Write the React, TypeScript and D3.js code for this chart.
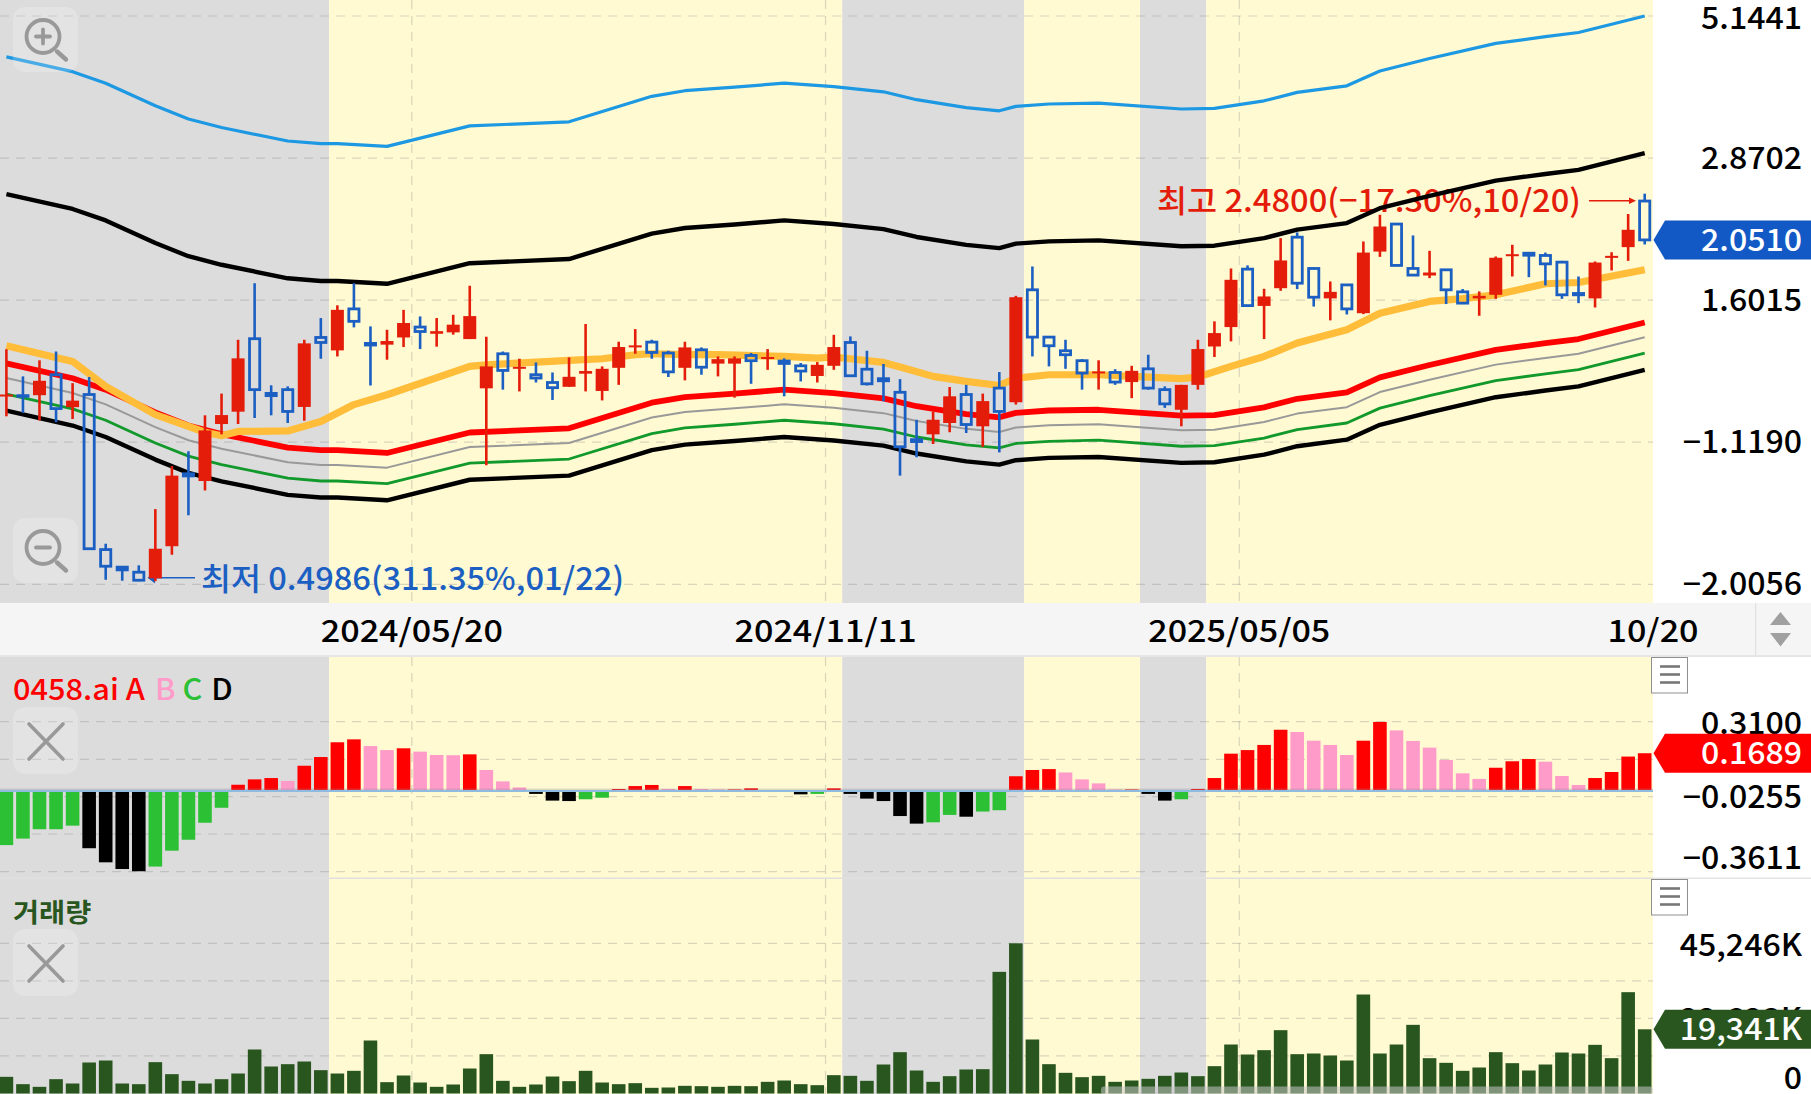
import * as d3 from 'd3';

const WIDTH = 1811;
const HEIGHT = 1094;

// weekly candles
const opens = [1.084,1.082,1.084,1.179,1.032,1.087,0.575,0.535,0.524,0.511,0.583,0.785,0.762,0.963,1.013,1.367,1.092,1.109,1.033,1.374,1.303,1.545,1.341,1.334,1.374,1.434,1.395,1.403,1.365,1.115,1.285,1.213,1.179,1.142,1.122,1.184,1.103,1.213,1.324,1.348,1.289,1.213,1.306,1.234,1.234,1.276,1.262,1.247,1.223,1.173,1.223,1.346,1.206,1.160,1.097,0.903,0.923,0.967,1.087,0.954,1.116,1.053,1.671,1.376,1.301,1.249,1.187,1.190,1.144,1.208,1.109,1.021,1.131,1.324,1.434,1.819,1.564,1.682,2.074,1.824,1.613,1.705,1.518,1.955,2.189,1.824,1.772,1.814,1.657,1.613,1.637,1.921,1.942,1.924,1.872,1.646,1.613,1.908,1.991,2.406];
const highs = [1.309,1.171,1.251,1.297,1.139,1.168,0.589,0.537,0.539,0.679,0.810,0.861,0.998,1.091,1.361,1.717,1.129,1.124,1.361,1.488,1.568,1.717,1.438,1.418,1.539,1.498,1.488,1.508,1.699,1.378,1.297,1.259,1.240,1.190,1.266,1.452,1.220,1.350,1.422,1.361,1.301,1.350,1.319,1.271,1.271,1.289,1.310,1.261,1.237,1.242,1.389,1.380,1.301,1.232,1.158,0.980,1.014,1.121,1.131,1.091,1.192,1.630,1.839,1.376,1.361,1.257,1.251,1.206,1.223,1.280,1.124,1.131,1.361,1.468,1.824,1.847,1.678,2.066,2.115,1.826,1.729,1.708,2.038,2.274,2.198,2.089,1.961,1.819,1.676,1.660,1.916,2.010,1.952,1.947,1.882,1.765,1.877,1.950,2.281,2.480];
const lows = [0.994,1.008,0.977,0.970,0.983,0.577,0.508,0.506,0.505,0.505,0.563,0.662,0.733,0.923,0.963,0.987,0.998,0.967,0.976,1.259,1.271,1.432,1.128,1.254,1.321,1.310,1.323,1.390,1.365,0.813,1.109,1.101,1.142,1.063,1.122,1.101,1.061,1.131,1.285,1.259,1.168,1.152,1.179,1.171,1.073,1.136,1.203,1.079,1.147,1.142,1.203,1.168,1.128,1.057,0.779,0.840,0.887,0.931,0.928,0.877,0.857,1.043,1.271,1.220,1.208,1.109,1.109,1.131,1.071,1.109,1.029,0.954,1.109,1.268,1.352,1.560,1.365,1.664,1.676,1.560,1.474,1.510,1.512,1.913,1.844,1.775,1.753,1.576,1.576,1.502,1.610,1.765,1.760,1.701,1.610,1.582,1.554,1.809,1.882,2.013];
const closes = [1.087,1.079,1.150,1.026,1.060,0.577,0.537,0.529,0.507,0.577,0.779,0.778,0.938,0.999,1.261,1.109,1.082,1.014,1.341,1.346,1.539,1.468,1.332,1.354,1.458,1.408,1.410,1.448,1.500,1.220,1.200,1.218,1.163,1.118,1.169,1.197,1.208,1.321,1.330,1.292,1.193,1.319,1.216,1.257,1.261,1.249,1.268,1.235,1.197,1.228,1.321,1.174,1.136,1.150,0.877,0.896,0.980,1.079,0.961,1.058,1.014,1.621,1.376,1.328,1.280,1.187,1.195,1.144,1.198,1.116,1.046,1.131,1.310,1.399,1.741,1.566,1.626,1.885,1.717,1.621,1.657,1.545,1.947,2.167,1.847,1.775,1.794,1.671,1.582,1.630,1.906,1.934,1.926,1.859,1.637,1.637,1.869,1.921,2.138,2.051];

// envelope lines share these bar positions
const bandIndex = [0,4,6,9,11,13,17,19,20,23,28,34,39,41,44,47,50,53,55,58,60,61,63,66,71,73,76,78,81,83,86,90,93,95,99];
const blueBand = [4.349,4.093,3.904,3.558,3.370,3.254,3.079,3.045,3.045,3.011,3.276,3.331,3.699,3.785,3.840,3.904,3.849,3.768,3.648,3.532,3.485,3.549,3.584,3.596,3.511,3.520,3.631,3.759,3.862,4.105,4.319,4.597,4.726,4.807,5.145];
const upperBand = [2.475,2.329,2.222,2.025,1.918,1.852,1.752,1.733,1.733,1.713,1.864,1.896,2.105,2.154,2.185,2.222,2.190,2.144,2.076,2.010,1.983,2.020,2.039,2.047,1.998,2.003,2.066,2.139,2.198,2.336,2.458,2.616,2.689,2.735,2.928];
const redBand = [1.235,1.162,1.109,1.010,0.957,0.924,0.874,0.865,0.865,0.855,0.930,0.946,1.051,1.075,1.091,1.109,1.093,1.070,1.036,1.003,0.990,1.008,1.018,1.021,0.997,0.999,1.031,1.068,1.097,1.166,1.227,1.306,1.342,1.365,1.461];
const grayBand = [1.163,1.094,1.044,0.951,0.901,0.870,0.823,0.814,0.814,0.805,0.876,0.891,0.989,1.012,1.027,1.044,1.029,1.007,0.975,0.944,0.932,0.949,0.958,0.962,0.939,0.941,0.971,1.005,1.032,1.098,1.155,1.229,1.263,1.285,1.375];
const greenBand = [1.089,1.025,0.978,0.891,0.844,0.815,0.771,0.762,0.762,0.754,0.820,0.834,0.926,0.948,0.962,0.978,0.964,0.943,0.913,0.884,0.873,0.889,0.897,0.901,0.879,0.881,0.909,0.941,0.967,1.028,1.082,1.151,1.183,1.204,1.288];
const lowerBand = [1.017,0.957,0.913,0.832,0.788,0.761,0.720,0.712,0.712,0.704,0.766,0.779,0.865,0.885,0.898,0.913,0.900,0.881,0.853,0.826,0.815,0.830,0.838,0.841,0.821,0.823,0.849,0.879,0.903,0.960,1.010,1.075,1.105,1.124,1.203];

const orangeIndex = [0,4,6,9,12,13,14,17,19,21,23,28,29,34,36,38,39,41,43,47,49,50,53,54,56,58,60,61,63,66,68,71,72,74,76,78,81,83,86,88,90,93,95,99];
const orangeLine = [1.328,1.245,1.124,1.001,0.931,0.918,0.934,0.936,0.973,1.043,1.086,1.220,1.228,1.251,1.259,1.280,1.285,1.280,1.280,1.271,1.262,1.268,1.240,1.217,1.171,1.147,1.128,1.163,1.179,1.179,1.171,1.160,1.168,1.220,1.271,1.343,1.418,1.518,1.593,1.612,1.637,1.713,1.722,1.814];

const oscillator = [-0.242,-0.213,-0.171,-0.171,-0.155,-0.256,-0.319,-0.349,-0.359,-0.338,-0.267,-0.218,-0.142,-0.075,0.028,0.052,0.058,0.045,0.113,0.152,0.218,0.231,0.201,0.183,0.191,0.176,0.161,0.160,0.164,0.094,0.043,0.016,-0.013,-0.043,-0.045,-0.037,-0.030,0.009,0.022,0.027,0.009,0.022,0.009,0.007,0.007,0.012,0.004,0.002,-0.015,-0.013,0.012,-0.013,-0.034,-0.045,-0.112,-0.146,-0.140,-0.107,-0.115,-0.092,-0.086,0.066,0.094,0.098,0.083,0.052,0.034,0.007,0.007,-0.013,-0.043,-0.037,0.009,0.058,0.167,0.183,0.206,0.274,0.264,0.225,0.206,0.161,0.225,0.309,0.271,0.224,0.194,0.139,0.079,0.054,0.104,0.133,0.143,0.131,0.067,0.027,0.058,0.085,0.154,0.1689];

const volumes = [5020,2811,2008,4317,3012,9337,9940,3012,2811,9438,5823,3815,3012,4317,6024,13253,8132,8835,9638,7028,6024,6827,15964,3414,5422,3313,2008,2711,7530,11847,3815,2008,2711,5120,3715,6827,3313,2811,3112,1707,1807,2309,2209,2008,2309,2209,3514,3916,2811,2510,5522,5321,3815,8735,12450,6928,3514,5221,7229,7329,36646,45246,16265,8835,6225,4920,5321,3514,3916,4418,5321,6325,5221,8233,14759,11747,13052,19076,11847,12048,11446,9940,29819,12048,14759,20682,10642,9237,6827,7831,12450,9136,6928,8735,12349,12048,14658,10642,30522,19341];

// shaded spans, as bar positions
const graySpans = [[-0.39,19.5],[50.5,61.5],[68.5,72.5]];
const yellowSpans = [[19.5,50.5],[61.5,68.5],[72.5,99.5]];

const dateTicks = [24.5,49.5,74.5,99.5];
const dateLabels = ['2024/05/20','2024/11/11','2025/05/05','10/20'];

const priceTicks = [5.1441,2.8702,1.6015,0.8936,0.4986];
const priceLabels = ['5.1441','2.8702','1.6015','−1.1190','−2.0056'];
const oscGrid = [0.31,0.1419,-0.0255,-0.1923,-0.3611];
const volGrid = [45246,33934,22623,11311];

const SANS = '"Noto Sans CJK KR","Noto Sans",sans-serif';
const RED = '#e41d0b';
const BLUE = '#1c5fc2';
const PLOT_R = 1653;
const VOL_GREEN = '#29561f';

const x = d3.scaleLinear().domain([0, 99]).range([6.4, 1644.7]);
const yPrice = d3.scaleLog().domain([0.4986, 5.1441]).range([584.3, 16]);
const yOsc = d3.scaleLinear().domain([0, 0.31]).range([791, 721.7]);
const yVol = d3.scaleLinear().domain([0, 45246]).range([1093.5, 943.3]);

const bandPath = (idx: number[], vals: number[]) =>
  d3.line<number>().x((_, i) => x(idx[i])).y(d => yPrice(d))(vals) || '';

const bands = [
  { vals: lowerBand, color: '#000000', w: 4.4 },
  { vals: greenBand, color: '#12992c', w: 2.8 },
  { vals: grayBand, color: '#999999', w: 2 },
  { vals: redBand, color: '#ff0000', w: 5.8 },
  { vals: upperBand, color: '#000000', w: 4.4 },
  { vals: blueBand, color: '#1d98e2', w: 3.2 },
];

function oscColor(i: number) {
  const v = oscillator[i];
  const prev = i > 0 ? oscillator[i - 1] : v - 1;
  if (v >= 0) return v >= prev ? '#ff0000' : '#ff9bc8';
  return v >= prev ? '#2cc035' : '#000000';
}

// the source font runs a little wider than anything installed
function Label({ px, py, sx = 1.035, anchor = 'end', fill = '#000', size = 31, children }: any) {
  return (
    <text transform={`translate(${px},${py}) scale(${sx},1)`} dy="0.36em" textAnchor={anchor}
      fontSize={size} fontWeight={500} fill={fill}>{children}</text>
  );
}

function Flag({ yc, color, label }: { yc: number; color: string; label: string }) {
  const pts = [[1653.5, yc], [1665, yc - 19.5], [1811, yc - 19.5], [1811, yc + 19.5], [1665, yc + 19.5]];
  return (
    <g>
      <polygon points={pts.map(p => p.join(',')).join(' ')} fill={color} />
      <Label px={1802} py={yc} fill="#fff">{label}</Label>
    </g>
  );
}

function Hamburger({ y0 }: { y0: number }) {
  return (
    <g>
      <rect x={1651.5} y={y0} width={36} height={35.5} fill="#fff" stroke="#8f8f8f" strokeWidth={1} />
      {[9, 17, 25].map(d => (
        <line key={d} x1={1660} x2={1680} y1={y0 + d} y2={y0 + d} stroke="#777" strokeWidth={2.6} />
      ))}
    </g>
  );
}

function CloseButton({ y0, h }: { y0: number; h: number }) {
  return (
    <g>
      <rect x={13} y={y0} width={65} height={h} rx={12} fill="#fff" fillOpacity={0.2} />
      <path d={`M29 ${y0 + 17}L63 ${y0 + 52}M63 ${y0 + 17}L29 ${y0 + 52}`} stroke="#999" strokeWidth={3.6} fill="none" strokeLinecap="round" />
    </g>
  );
}

function Magnifier({ y0, plus }: { y0: number; plus: boolean }) {
  const cx = 43;
  const cy = y0 + 29.5;
  return (
    <g>
      <rect x={13} y={y0} width={65} height={65} rx={12} fill="#fff" fillOpacity={0.2} />
      <circle cx={cx} cy={cy} r={16.5} fill="none" stroke="#999" strokeWidth={3.8} />
      <line x1={cx - 7} x2={cx + 7} y1={cy} y2={cy} stroke="#999" strokeWidth={3.8} strokeLinecap="round" />
      {plus && <line x1={cx} x2={cx} y1={cy - 7} y2={cy + 7} stroke="#999" strokeWidth={3.8} strokeLinecap="round" />}
      <line x1={cx + 14} x2={cx + 23} y1={cy + 15} y2={cy + 23} stroke="#999" strokeWidth={4.4} strokeLinecap="round" />
    </g>
  );
}

export default function App() {
  const panels: [number, number][] = [[0, 603], [657, 878], [879, 1094]];
  const candles = opens.map((o, i) => ({ i, o, h: highs[i], l: lows[i], c: closes[i] }));

  return (
    <svg width={WIDTH} height={HEIGHT} viewBox={`0 0 ${WIDTH} ${HEIGHT}`}
      style={{ position: 'absolute', left: 0, top: 0, display: 'block', background: '#fff' }}
      fontFamily={SANS}>
      <defs>
        <clipPath id="plot"><rect x={0} y={0} width={PLOT_R} height={603} /></clipPath>
      </defs>

      {/* shaded backgrounds */}
      {panels.map(([t, b]) => (
        <g key={t}>
          {graySpans.map(([a, e]) => (
            <rect key={a} x={Math.max(0, x(a))} y={t} width={x(e) - Math.max(0, x(a))} height={b - t} fill="#dcdcdc" />
          ))}
          {yellowSpans.map(([a, e]) => (
            <rect key={a} x={x(a)} y={t} width={x(e) - x(a)} height={b - t} fill="#fffad2" />
          ))}
        </g>
      ))}

      {/* grid */}
      <g stroke="#8a8a8a" strokeOpacity={0.32} strokeWidth={1.2} strokeDasharray="9 7">
        {priceTicks.map(t => <line key={t} x1={0} x2={PLOT_R} y1={yPrice(t)} y2={yPrice(t)} />)}
        {oscGrid.map(t => <line key={t} x1={0} x2={PLOT_R} y1={yOsc(t)} y2={yOsc(t)} />)}
        {volGrid.map(t => <line key={t} x1={0} x2={PLOT_R} y1={yVol(t)} y2={yVol(t)} />)}
        {dateTicks.slice(0, 3).map(t => (
          <g key={t}>
            <line x1={x(t)} x2={x(t)} y1={0} y2={603} />
            <line x1={x(t)} x2={x(t)} y1={657} y2={878} />
            <line x1={x(t)} x2={x(t)} y1={879} y2={1094} />
          </g>
        ))}
      </g>

      {/* high / low notes sit under the lines */}
      <text x={1157} y={201} dy="0.36em" fontSize={31} fontWeight={500} fill={RED} textLength={424} lengthAdjust="spacingAndGlyphs">최고 2.4800(−17.30%,10/20)</text>
      <line x1={1589} x2={1630} y1={200.7} y2={200.7} stroke={RED} strokeWidth={1.4} />
      <polygon points="1636,200.7 1629,197.5 1629,204" fill={RED} />
      <text x={201} y={578.5} dy="0.36em" fontSize={31} fontWeight={500} fill={BLUE} textLength={423} lengthAdjust="spacingAndGlyphs">최저 0.4986(311.35%,01/22)</text>
      <line x1={156} x2={195} y1={577.7} y2={577.7} stroke={BLUE} strokeWidth={1.4} />
      <polygon points="147.5,577.7 155,572 155,583.5" fill={BLUE} />

      {/* envelope lines */}
      <g clipPath="url(#plot)" fill="none" strokeLinejoin="round">
        {bands.map((b, i) => (
          <path key={i} d={bandPath(bandIndex, b.vals)} stroke={b.color} strokeWidth={b.w} />
        ))}
        <path d={bandPath(orangeIndex, orangeLine)} stroke="#ffbd3a" strokeWidth={7.2} />
      </g>

      {/* candles */}
      <g clipPath="url(#plot)">
        {candles.map(d => {
          const up = d.c >= d.o;
          const top = yPrice(Math.max(d.o, d.c));
          const bot = yPrice(Math.min(d.o, d.c));
          const cx = x(d.i);
          if (up) {
            return (
              <g key={d.i}>
                <line x1={cx} x2={cx} y1={yPrice(d.h)} y2={yPrice(d.l)} stroke={RED} strokeWidth={2.6} />
                <rect x={cx - 6.5} y={top} width={13} height={Math.max(bot - top, 2)} fill={RED} />
              </g>
            );
          }
          return (
            <g key={d.i}>
              <line x1={cx} x2={cx} y1={yPrice(d.h)} y2={top} stroke={BLUE} strokeWidth={2.6} />
              <line x1={cx} x2={cx} y1={bot} y2={yPrice(d.l)} stroke={BLUE} strokeWidth={2.6} />
              <rect x={cx - 5.1} y={top} width={10.2} height={Math.max(bot - top, 0.6)} fill="none" stroke={BLUE} strokeWidth={2.8} />
            </g>
          );
        })}
      </g>

      {/* oscillator bars */}
      <g>
        {oscillator.map((v, i) => {
          const y = yOsc(v);
          return (
            <rect key={i} x={Math.max(0, x(i) - 6.8)} y={Math.min(y, yOsc(0))} width={x(i) + 6.8 - Math.max(0, x(i) - 6.8)}
              height={Math.abs(y - yOsc(0))} fill={oscColor(i)} />
          );
        })}
        <rect x={0} y={yOsc(0) - 2.5} width={PLOT_R} height={2} fill="#8a8a9a" fillOpacity={0.3} />
        <line x1={0} x2={PLOT_R} y1={yOsc(0)} y2={yOsc(0)} stroke="#8fbbe0" strokeWidth={2.2} />
      </g>

      {/* volume bars */}
      <g>
        {volumes.map((v, i) => (
          <rect key={i} x={Math.max(0, x(i) - 6.8)} y={yVol(v)} width={x(i) + 6.8 - Math.max(0, x(i) - 6.8)}
            height={yVol(0) - yVol(v)} fill={VOL_GREEN} />
        ))}
        <rect x={1101} y={1086.5} width={552} height={8} rx={3} fill="#c8c8c8" fillOpacity={0.55} />
      </g>

      {/* date strip */}
      <rect x={0} y={603} width={WIDTH} height={52} fill="#f5f5f5" />
      <line x1={0} x2={WIDTH} y1={656} y2={656} stroke="#dedede" strokeWidth={1.6} />
      <line x1={0} x2={PLOT_R} y1={878.2} y2={878.2} stroke="#e0e0e0" strokeWidth={1.6} />
      <line x1={1653} x2={WIDTH} y1={878.2} y2={878.2} stroke="#e4e4e4" strokeWidth={1.6} />
      <line x1={1755.7} x2={1755.7} y1={603} y2={655} stroke="#dcdcdc" strokeWidth={1} />
      <polygon points="1770,625 1791,625 1780.5,612" fill="#a0a0a0" />
      <polygon points="1770,633 1791,633 1780.5,646.5" fill="#a0a0a0" />
      {dateTicks.map((t, i) => (
        <Label key={t} px={x(t)} py={631} sx={1.1} anchor="middle">{dateLabels[i]}</Label>
      ))}

      {/* right axis */}
      {priceTicks.map((t, i) => (
        <Label key={t} px={1802} py={Math.max(yPrice(t), 18)}>{priceLabels[i]}</Label>
      ))}
      <Label px={1802} py={723}>0.3100</Label>
      <Label px={1802} py={797}>−0.0255</Label>
      <Label px={1802} py={858}>−0.3611</Label>
      <Label px={1802} py={945}>45,246K</Label>
      <Label px={1802} py={1019}>22,623K</Label>
      <Label px={1802} py={1078}>0</Label>

      <Flag yc={yPrice(closes[99])} color="#1359c6" label="2.0510" />
      <Flag yc={yOsc(0.1689)} color="#ff0000" label="0.1689" />
      <Flag yc={yVol(19341)} color={VOL_GREEN} label="19,341K" />

      <Hamburger y0={657.5} />
      <Hamburger y0={879.5} />

      {/* overlays */}
      <Magnifier y0={7} plus />
      <Magnifier y0={518} plus={false} />
      <CloseButton y0={707} h={67} />
      <CloseButton y0={929} h={67} />
      <g transform="translate(13,699.5) scale(1.06,1)" fontSize={29} fontWeight={500}>
        <text fill="#ff0000">0458.ai A</text>
        <text x={134} fill="#ff9bc8">B</text>
        <text x={160} fill="#2cc035">C</text>
        <text x={187} fill="#000">D</text>
      </g>
      <text transform="translate(13,922) scale(1.09,1)" fontSize={26} fontWeight={700} fill={VOL_GREEN}>거래량</text>
    </svg>
  );
}
